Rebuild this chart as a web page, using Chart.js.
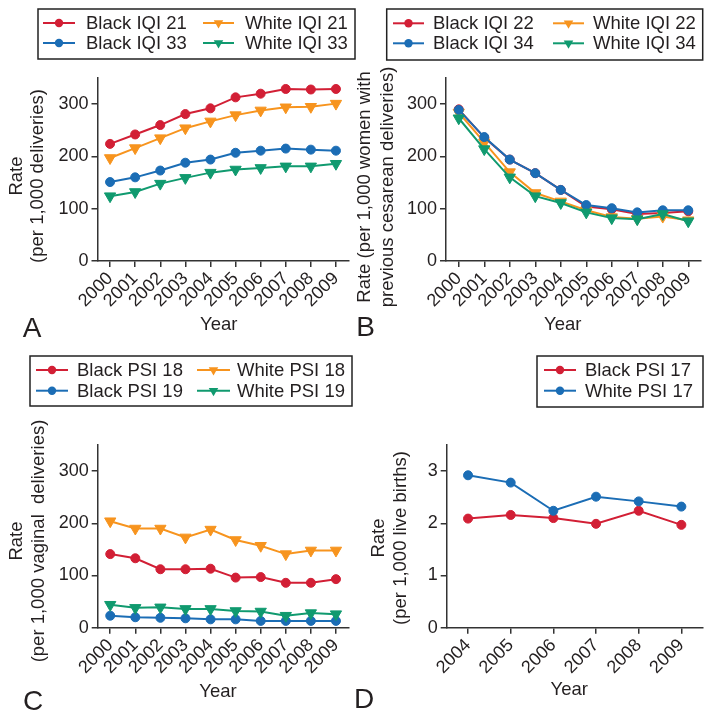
<!DOCTYPE html>
<html><head><meta charset="utf-8">
<script src="https://cdn.jsdelivr.net/npm/chart.js@4.4.1/dist/chart.umd.min.js"></script>
<style>
html,body{margin:0;padding:0;background:#fff;width:712px;height:720px;overflow:hidden;position:relative}
canvas{position:absolute}
</style></head><body>
<canvas id="cA" width="356" height="350" style="left:0;top:0"></canvas>
<canvas id="cB" width="356" height="350" style="left:356px;top:0"></canvas>
<canvas id="cC" width="356" height="370" style="left:0;top:350px"></canvas>
<canvas id="cD" width="356" height="370" style="left:356px;top:350px"></canvas>
<script>
// ---------- data ----------
const years0009 = ['2000','2001','2002','2003','2004','2005','2006','2007','2008','2009'];
const years0409 = ['2004','2005','2006','2007','2008','2009'];

// Panel A
const blackIQI21 = [224, 242, 260, 281, 292, 313, 320, 329, 328, 329];
const whiteIQI21 = [197, 216, 235, 254, 267, 279, 288, 294, 295, 301];
const blackIQI33 = [151, 160, 173, 188, 194, 207, 211, 215, 213, 211];
const whiteIQI33 = [124, 132, 148, 159, 169, 175, 178, 181, 181, 186];

// Panel B
const blackIQI22 = [290, 236, 194, 168, 136, 104, 99, 90, 92, 95];
const whiteIQI22 = [284, 227, 170, 130, 114, 97, 84, 81, 85, 78];
const blackIQI34 = [289, 237, 194, 168, 136, 107, 101, 93, 97, 97];
const whiteIQI34 = [273, 214, 160, 124, 111, 93, 82, 80, 90, 76];

// Panel C
const blackPSI18 = [141, 133, 112, 112, 113, 96, 97, 86, 86, 93];
const whitePSI18 = [204, 190, 190, 173, 188, 168, 157, 141, 148, 148];
const blackPSI19 = [23, 20, 19, 18, 16, 16, 13, 13, 13, 13];
const whitePSI19 = [44, 38, 39, 36, 36, 32, 31, 23, 28, 26];

// Panel D
const blackPSI17 = [2.09, 2.16, 2.10, 1.99, 2.24, 1.97];
const whitePSI17 = [2.92, 2.78, 2.24, 2.51, 2.42, 2.32];

// ---------- styling ----------
const FONT = '"Liberation Sans", Arial, Helvetica, sans-serif';
const INK = '#231f20';
const AX = '#333333';
const RED = '#d21f35', ORANGE = '#f7941e', BLUE = '#1b6db5', GREEN = '#109a6f';

function ds(label, data, color, tri, order) {
  return {
    label, data, order,
    borderColor: color, backgroundColor: color,
    pointBackgroundColor: color, pointBorderColor: color,
    borderWidth: 2, pointBorderWidth: 1,
    pointStyle: tri ? 'triangle' : 'circle',
    pointRotation: tri ? 180 : 0,
    pointRadius: tri ? 6.5 : 4.5,
    tension: 0, fill: false
  };
}

function makeScales(yMax, yStep, yW, xH) {
  const grid = {display: true, drawOnChartArea: false, drawTicks: true, tickLength: 6, color: AX, lineWidth: 1.5, offset: false};
  const border = {display: true, color: AX, width: 1.5};
  return {
    x: {
      type: 'category', offset: true, grid, border,
      ticks: {color: INK, font: {family: FONT, size: 18}, maxRotation: 45, minRotation: 45, padding: 1, autoSkip: false},
      afterFit: s => { s.height = xH; }
    },
    y: {
      type: 'linear', min: 0, max: yMax, grid, border,
      ticks: {stepSize: yStep, color: INK, font: {family: FONT, size: 18}, padding: 3},
      afterBuildTicks: s => { s.ticks = s.ticks.filter(t => Math.abs(t.value / yStep - Math.round(t.value / yStep)) < 1e-9); },
      afterFit: s => { s.width = yW; }
    }
  };
}

function drawMarker(ctx, style, x, y, r) {
  ctx.beginPath();
  if (style === 'triangle') {
    ctx.moveTo(x - r * 0.866 * 1.15, y - r * 0.5 * 1.15);
    ctx.lineTo(x + r * 0.866 * 1.15, y - r * 0.5 * 1.15);
    ctx.lineTo(x, y + r * 1.15);
    ctx.closePath();
  } else {
    ctx.arc(x, y, r, 0, Math.PI * 2);
  }
  ctx.fill();
}

const decor = {
  id: 'panelDecor',
  afterDraw(chart, args, opts) {
    const ctx = chart.ctx;
    ctx.save();
    const lg = opts.legend;
    if (lg) {
      ctx.lineWidth = 1.5; ctx.strokeStyle = '#222';
      ctx.strokeRect(lg.x, lg.y, lg.w, lg.h);
      const nc = lg.cols.length;
      chart.data.datasets.forEach((d, i) => {
        const c = lg.cols[i % nc];
        const ry = lg.rows[Math.floor(i / nc)];
        ctx.strokeStyle = d.borderColor; ctx.fillStyle = d.borderColor; ctx.lineWidth = 2;
        ctx.beginPath(); ctx.moveTo(c[0], ry); ctx.lineTo(c[1], ry); ctx.stroke();
        drawMarker(ctx, d.pointStyle, (c[0] + c[1]) / 2, ry, d.pointStyle === 'triangle' ? 4.8 : 4.2);
        ctx.fillStyle = INK;
        ctx.font = '18.5px ' + FONT;
        ctx.textAlign = 'left'; ctx.textBaseline = 'middle';
        ctx.fillText(d.label, c[2], ry + 1);
      });
    }
    (opts.texts || []).forEach(t => {
      ctx.save();
      ctx.fillStyle = INK;
      ctx.font = (t.size || 18.5) + 'px ' + FONT;
      ctx.textAlign = 'center'; ctx.textBaseline = 'middle';
      ctx.translate(t.x, t.y);
      if (t.rot) ctx.rotate(t.rot);
      ctx.fillText(t.text, 0, 0);
      ctx.restore();
    });
    ctx.restore();
  }
};

function makeChart(id, labels, datasets, sc, pad, decorOpts) {
  return new Chart(document.getElementById(id), {
    type: 'line',
    data: {labels, datasets},
    options: {
      responsive: false, animation: false, devicePixelRatio: 1,
      layout: {padding: pad},
      scales: sc,
      plugins: {legend: {display: false}, tooltip: {enabled: false}, panelDecor: decorOpts}
    },
    plugins: [decor]
  });
}

const R90 = -Math.PI / 2;

// Panel A
makeChart('cA', years0009, [
  ds('Black IQI 21', blackIQI21, RED, false, 3),
  ds('White IQI 21', whiteIQI21, ORANGE, true, 2),
  ds('Black IQI 33', blackIQI33, BLUE, false, 1),
  ds('White IQI 33', whiteIQI33, GREEN, true, 0)
], makeScales(350, 100, 97.5, 89), {top: 78, right: 3, left: 0, bottom: 0}, {
  legend: {x: 38, y: 9, w: 317, h: 50, cols: [[43, 75, 86], [203, 234, 245]], rows: [23, 43]},
  texts: [
    {text: 'Rate', x: 17, y: 176, rot: R90},
    {text: '(per 1,000 deliveries)', x: 38, y: 176, rot: R90},
    {text: 'Year', x: 218.7, y: 325},
    {text: 'A', x: 32, y: 329, size: 28}
  ]
});

// Panel B
makeChart('cB', years0009, [
  ds('Black IQI 22', blackIQI22, RED, false, 3),
  ds('White IQI 22', whiteIQI22, ORANGE, true, 2),
  ds('Black IQI 34', blackIQI34, BLUE, false, 1),
  ds('White IQI 34', whiteIQI34, GREEN, true, 0)
], makeScales(350, 100, 90, 89), {top: 78, right: 11, left: 0, bottom: 0}, {
  legend: {x: 30.7, y: 9, w: 316, h: 51, cols: [[37, 68, 77], [197, 228, 237]], rows: [23.3, 43.3]},
  texts: [
    {text: 'Rate (per 1,000 women with', x: 9, y: 187, rot: R90},
    {text: 'previous cesarean deliveries)', x: 32, y: 187, rot: R90},
    {text: 'Year', x: 206.7, y: 325},
    {text: 'B', x: 9.5, y: 328, size: 28}
  ]
});

// Panel C
makeChart('cC', years0009, [
  ds('Black PSI 18', blackPSI18, RED, false, 3),
  ds('White PSI 18', whitePSI18, ORANGE, true, 2),
  ds('Black PSI 19', blackPSI19, BLUE, false, 1),
  ds('White PSI 19', whitePSI19, GREEN, true, 0)
], makeScales(350, 100, 97.7, 92.3), {top: 95, right: 4, left: 0, bottom: 0}, {
  legend: {x: 30, y: 6, w: 322, h: 50, cols: [[36, 68, 77], [197, 230, 237]], rows: [20, 40.7]},
  texts: [
    {text: 'Rate', x: 16.7, y: 191, rot: R90},
    {text: '(per 1,000 vaginal  deliveries)', x: 39, y: 191, rot: R90},
    {text: 'Year', x: 218, y: 341.7},
    {text: 'C', x: 33, y: 352, size: 28}
  ]
});

// Panel D
makeChart('cD', years0409, [
  ds('Black PSI 17', blackPSI17, RED, false, 1),
  ds('White PSI 17', whitePSI17, BLUE, false, 0)
], makeScales(3.5, 1, 90.7, 92.3), {top: 95, right: 9.3, left: 0, bottom: 0}, {
  legend: {x: 181, y: 6, w: 166, h: 51, cols: [[188, 220, 229]], rows: [20, 40.7]},
  texts: [
    {text: 'Rate', x: 23.3, y: 188, rot: R90},
    {text: '(per 1,000 live births)', x: 45, y: 188, rot: R90},
    {text: 'Year', x: 213.3, y: 340},
    {text: 'D', x: 8, y: 350, size: 28}
  ]
});
</script>
</body></html>
